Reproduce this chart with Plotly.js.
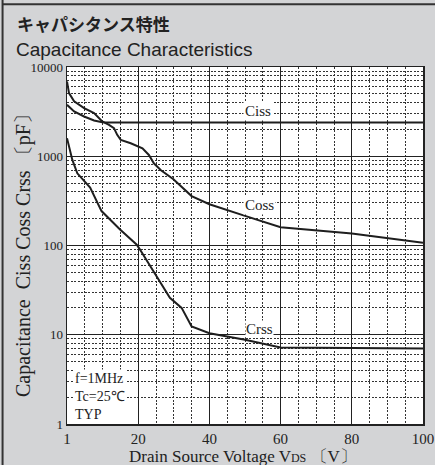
<!DOCTYPE html>
<html><head><meta charset="utf-8">
<script src="https://cdn.plot.ly/plotly-3.0.1.min.js"></script>
<style>html,body{margin:0;padding:0;background:#d3d4d6;}#chart{width:435px;height:465px;}</style>
</head><body><div id="chart"></div>
<script>
// Data (VDS in V, capacitance in pF)
const cissV = [0, 2, 4.8, 7.6, 9.9, 12, 100];
const cissC = [3770, 3180, 2790, 2520, 2410, 2395, 2390];

const cossV = [0, 0.56, 2, 4.8, 7.6, 9.9, 11.8, 13.2, 14.1, 15.1, 17.9, 21.2, 23, 24.4, 26.3, 29.9, 35, 40, 50, 60, 80, 100];
const cossC = [6900, 5100, 4120, 3460, 3040, 2455, 2250, 2065, 1737, 1524, 1400, 1230, 1034, 834, 702, 552, 358, 290, 215, 160, 136, 107];

const crssV = [0, 1.5, 2.9, 6.5, 9.7, 14.9, 19.6, 20.5, 25.2, 28.9, 32.2, 35, 40, 50, 60, 80, 100];
const crssC = [1594, 910, 644, 445, 243, 151, 102, 90, 45, 25.9, 20, 12.4, 10.4, 8.8, 7.2, 7.1, 7.0];

const xTickVals = [0, 20, 40, 60, 80, 100];
const xTickText = ['1', '20', '40', '60', '80', '100'];
const yTickVals = [1, 10, 100, 1000, 10000];
const yTickText = ['1', '10', '100', '1000', '10000'];
const condLines = ['f=1MHz', 'Tc=25℃', 'TYP'];

const yMinor = [];
[1, 10, 100, 1000].forEach(d => { for (let k = 2; k <= 9; k++) yMinor.push(d * k); });

const serif = 'Liberation Serif, Times New Roman, serif';
const ink = '#1e1e1e';
const lineStyle = {color: ink, width: 2, shape: 'linear'};

const traces = [
  {x: cissV, y: cissC, mode: 'lines', line: lineStyle, hoverinfo: 'skip'},
  {x: cossV, y: cossC, mode: 'lines', line: lineStyle, hoverinfo: 'skip'},
  {x: crssV, y: crssC, mode: 'lines', line: lineStyle, hoverinfo: 'skip'}
];

const layout = {
  width: 435, height: 465,
  margin: {l: 67, r: 12, t: 67, b: 41},
  paper_bgcolor: '#d3d4d6', plot_bgcolor: '#ffffff',
  showlegend: false,
  font: {family: serif, color: '#222'},
  xaxis: {
    range: [0, 100], tickmode: 'array', tickvals: xTickVals, ticktext: xTickText,
    showgrid: true, gridcolor: '#222', gridwidth: 1,
    zeroline: false, showline: true, linecolor: '#222', linewidth: 1.5, mirror: true,
    ticks: '', tickfont: {family: serif, size: 15, color: '#222'},
    minor: {dtick: 5, showgrid: true, gridcolor: '#333', gridwidth: 1, griddash: '2px,1.5px'}
  },
  yaxis: {
    type: 'log', range: [0, 4], tickmode: 'array', tickvals: yTickVals, ticktext: yTickText,
    showgrid: true, gridcolor: '#222', gridwidth: 1,
    zeroline: false, showline: true, linecolor: '#222', linewidth: 1.5, mirror: true,
    ticks: '', tickfont: {family: serif, size: 13, color: '#222'},
    minor: {tickmode: 'array', tickvals: yMinor, showgrid: true, gridcolor: '#333', gridwidth: 1, griddash: '2px,1.5px'}
  },
  annotations: [
    {xref: 'paper', yref: 'paper', x: -0.146, y: 1.123, xanchor: 'left', yanchor: 'middle', showarrow: false,
     text: '<b>キャパシタンス特性</b>', font: {family: 'Noto Sans CJK JP', size: 17, color: '#222'}},
    {xref: 'paper', yref: 'paper', x: -0.15, y: 1.05, xanchor: 'left', yanchor: 'middle', showarrow: false,
     text: 'Capacitance Characteristics', font: {family: 'Liberation Sans, Arial, sans-serif', size: 19, color: '#222'}},
    {xref: 'paper', yref: 'paper', x: 0.494, y: -0.09, xanchor: 'center', yanchor: 'middle', showarrow: false,
     text: 'Drain Source Voltage V<span style="font-size:12px">DS</span> 〔V〕', font: {family: serif, size: 17, color: '#222'}},
    {xref: 'paper', yref: 'paper', x: -0.124, y: 0.487, xanchor: 'center', yanchor: 'middle', showarrow: false, textangle: -90,
     text: 'Capacitance  Ciss Coss Crss 〔pF〕', font: {family: serif, size: 20, color: '#222'}},
    {x: 53.7, y: Math.log10(3230), text: 'Ciss', showarrow: false, bgcolor: '#ffffff', borderpad: 1,
     font: {family: serif, size: 15, color: '#222'}},
    {x: 54, y: Math.log10(284), text: 'Coss', showarrow: false, bgcolor: '#ffffff', borderpad: 1,
     font: {family: serif, size: 15, color: '#222'}},
    {x: 54.2, y: Math.log10(11.6), text: 'Crss', showarrow: false, bgcolor: '#ffffff', borderpad: 0,
     font: {family: serif, size: 15, color: '#222'}},
    {x: 1.6, y: 0.303, xanchor: 'left', yanchor: 'middle', align: 'left', showarrow: false,
     bgcolor: '#ffffff', borderpad: 1, text: condLines.join('<br>'), font: {family: serif, size: 14, color: '#222'}}
  ],
  shapes: [
    {type: 'line', xref: 'paper', yref: 'paper', x0: -0.181, x1: -0.181, y0: -0.12, y1: 1.19, line: {color: '#333', width: 2}},
    {type: 'line', xref: 'paper', yref: 'paper', x0: -0.181, x1: 1.04, y0: 1.176, y1: 1.176, line: {color: '#333', width: 2}}
  ]
};

Plotly.newPlot('chart', traces, layout, {staticPlot: true, displayModeBar: false});
</script></body></html>
